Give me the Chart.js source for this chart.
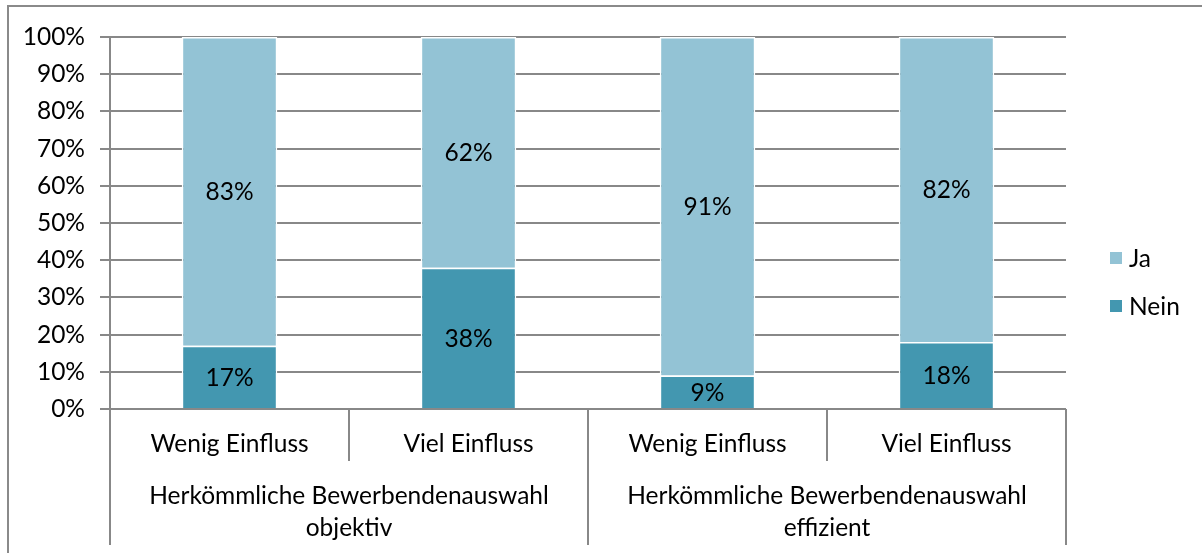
<!DOCTYPE html>
<html>
<head>
<meta charset="utf-8">
<script src="https://cdn.jsdelivr.net/npm/chart.js@4.4.0/dist/chart.umd.min.js"></script>
<style>
  html, body { margin: 0; padding: 0; background: #fff; }
  #wrap { width: 1202px; height: 553px; position: relative; }
</style>
</head>
<body>
<div id="wrap"><canvas id="c" width="1202" height="553"></canvas></div>
<script>
const categories = ['Wenig Einfluss', 'Viel Einfluss', 'Wenig Einfluss', 'Viel Einfluss'];
const groupLabels = [
  ['Herkömmliche Bewerbendenauswahl', 'objektiv'],
  ['Herkömmliche Bewerbendenauswahl', 'effizient']
];
const groupSizes = [2, 2];
const neinValues = [17, 38, 9, 18];
const jaValues = [83, 62, 91, 82];
const yTickValues = [0, 10, 20, 30, 40, 50, 60, 70, 80, 90, 100];

const FONT = 'Lato';
const FS = 24.5;
const GRID = '#888888';
const COL_JA = '#93c3d5';
const COL_NEIN = '#4397b0';

const overlay = {
  id: 'overlay',
  afterDraw(chart) {
    const ctx = chart.ctx;
    const x = chart.scales.x;
    const area = chart.chartArea;
    const bottomLine = area.bottom + 136;
    ctx.save();
    ctx.font = FS + 'px ' + FONT;
    ctx.fillStyle = '#000';
    ctx.textAlign = 'center';
    ctx.textBaseline = 'middle';
    chart.data.datasets.forEach((ds, di) => {
      const meta = chart.getDatasetMeta(di);
      meta.data.forEach((bar, i) => {
        const cy = (bar.y + bar.base) / 2;
        ctx.fillText(ds.data[i] + '%', bar.x, cy + 1);
      });
    });
    ctx.strokeStyle = GRID;
    ctx.lineWidth = 2;
    const half = (x.getPixelForValue(1) - x.getPixelForValue(0)) / 2;
    const edges = [];
    for (let i = 0; i <= categories.length; i++) {
      edges.push(i === 0 ? x.getPixelForValue(0) - half : x.getPixelForValue(i - 1) + half);
    }
    const groupEdgeIdx = [0];
    let acc = 0;
    groupSizes.forEach(s => { acc += s; groupEdgeIdx.push(acc); });
    edges.forEach((ex, i) => {
      const full = groupEdgeIdx.includes(i);
      ctx.beginPath();
      ctx.moveTo(Math.round(ex), area.bottom);
      ctx.lineTo(Math.round(ex), full ? bottomLine : area.bottom + 52);
      ctx.stroke();
    });
    ctx.fillStyle = '#000';
    categories.forEach((c, i) => {
      ctx.fillText(c, x.getPixelForValue(i), area.bottom + 35);
    });
    groupLabels.forEach((g, gi) => {
      const cx = (edges[groupEdgeIdx[gi]] + edges[groupEdgeIdx[gi + 1]]) / 2;
      g.forEach((line, li) => {
        ctx.fillText(line, cx, area.bottom + 87 + li * 32);
      });
    });
    const leg = [{t: 'Ja', c: COL_JA, y: 258}, {t: 'Nein', c: COL_NEIN, y: 306}];
    ctx.textAlign = 'left';
    leg.forEach(l => {
      ctx.fillStyle = l.c;
      ctx.fillRect(1110, l.y - 6, 12, 12);
      ctx.fillStyle = '#000';
      ctx.fillText(l.t, 1129, l.y + 1);
    });
    ctx.strokeStyle = '#8a8a8a';
    ctx.lineWidth = 2;
    ctx.strokeRect(8, 6, 1220, 560);
    ctx.restore();
  }
};

new Chart(document.getElementById('c'), {
  type: 'bar',
  data: {
    labels: categories,
    datasets: [
      { label: 'Nein', data: neinValues, backgroundColor: COL_NEIN, borderColor: '#ffffff', borderWidth: 1.5 },
      { label: 'Ja', data: jaValues, backgroundColor: COL_JA, borderColor: '#ffffff', borderWidth: 1.5 }
    ]
  },
  options: {
    responsive: false,
    animation: false,
    devicePixelRatio: 1,
    layout: { padding: { left: 0, top: 37, right: 136, bottom: 144 } },
    datasets: { bar: { categoryPercentage: 1, barPercentage: 0.4 } },
    plugins: { legend: { display: false }, tooltip: { enabled: false } },
    scales: {
      x: { display: false, stacked: true },
      y: {
        stacked: true, min: 0, max: 100,
        afterFit: s => { s.width = 110; },
        afterBuildTicks: s => { s.ticks = yTickValues.map(v => ({ value: v })); },
        ticks: { callback: v => v + '%', color: '#000', font: { family: FONT, size: FS }, padding: 15 },
        grid: { color: GRID, lineWidth: 2, tickLength: 10 },
        border: { color: GRID, width: 2 }
      }
    }
  },
  plugins: [overlay]
});
</script>
</body>
</html>
